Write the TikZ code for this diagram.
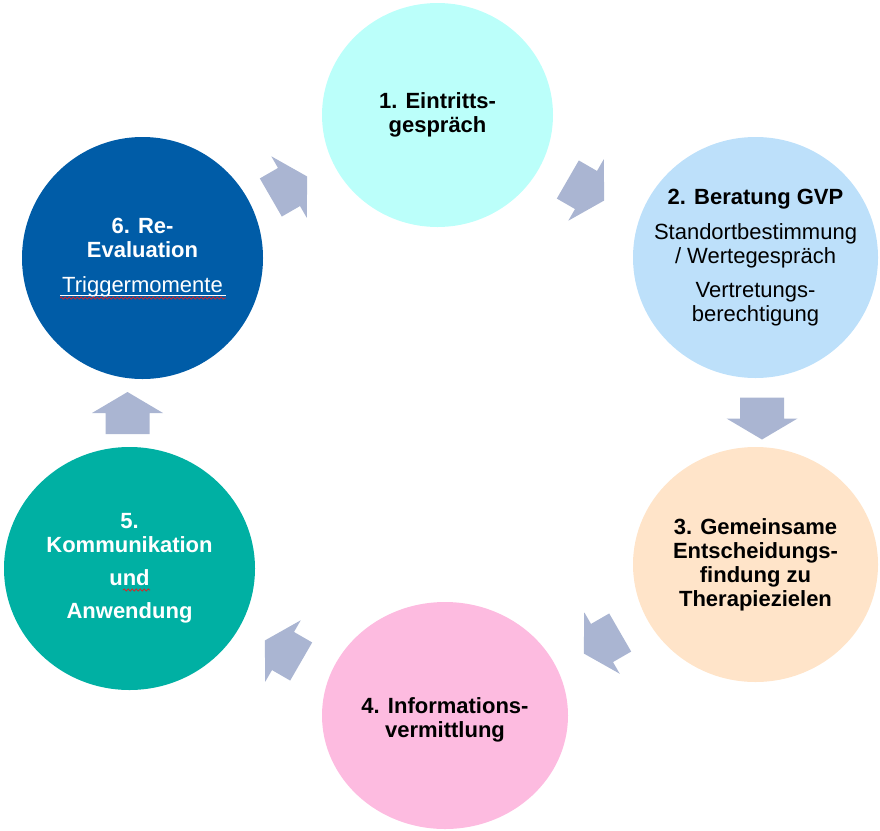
\documentclass[tikz,border=0pt]{standalone}
\usepackage{fontspec}
\setmainfont{Liberation Sans}
\usetikzlibrary{shapes.geometric,decorations.pathmorphing}

\definecolor{stepcyan}{HTML}{BBFFFA}
\definecolor{stepblue}{HTML}{BDE0FA}
\definecolor{steppeach}{HTML}{FFE4C9}
\definecolor{steppink}{HTML}{FDBBE0}
\definecolor{stepteal}{HTML}{00B0A3}
\definecolor{stepnavy}{HTML}{005CA7}
\definecolor{arrowgray}{HTML}{AAB5D2}
\definecolor{spellred}{HTML}{E02020}

\tikzset{
	phase/.style={ellipse, inner sep=0pt},
	caption/.style={align=center, inner sep=0pt, font=\fontsize{22}{24}\selectfont\bfseries},
	flowarrow/.pic={\fill[arrowgray] (-21,-22) -- (0,-22) -- (0,-35.5) -- (21,0) -- (0,35.5) -- (0,22) -- (-21,22) -- cycle;},
	spell/.style={draw=spellred, line width=0.7pt, decorate, decoration={snake, amplitude=1.1pt, segment length=4pt}}
}

\begin{document}
\begin{tikzpicture}[x=1pt, y=-1pt]
	\useasboundingbox (0,0) rectangle (880,830);
	\node[phase, fill=stepcyan, minimum width=231, minimum height=224, name=s1] at (437.5, 115) {};
	\node[phase, fill=stepblue, minimum width=245, minimum height=241, name=s2] at (755.5, 257.5) {};
	\node[phase, fill=steppeach, minimum width=245, minimum height=235, name=s3] at (755.5, 564.5) {};
	\node[phase, fill=steppink, minimum width=246, minimum height=227, name=s4] at (445, 715.5) {};
	\node[phase, fill=stepteal, minimum width=251, minimum height=243, name=s5] at (129.5, 568.5) {};
	\node[phase, fill=stepnavy, minimum width=241, minimum height=242, name=s6] at (142.5, 258) {};
	\node[caption, name=t1] at (s1) {1. Eintritts-\\gespräch};
	\node[caption, name=t2] at (s2) {2. Beratung GVP\\[11pt]\mdseries Standortbestimmung\\\mdseries / Wertegespräch\\[10pt]\mdseries Vertretungs-\\\mdseries berechtigung};
	\node[caption, name=t3] at (s3) {3. Gemeinsame\\Entscheidungs-\\findung zu\\Therapiezielen};
	\node[caption, yshift=-4pt, name=t4] at (s4) {4. Informations-\\vermittlung};
	\node[caption, text=white, name=t5] at (s5) {5.\\Kommunikation\\[9pt]und\\[9pt]Anwendung};
	\node[caption, text=white, name=t6] at (s6) {6. Re-\\Evaluation\\[11pt]\mdseries Triggermomente};
	\draw[white, line width=0.8pt] (60, 295) -- (226, 295);
	\draw[spell] (60, 298) -- (226, 298);
	\draw[spell] (123, 590) -- (150, 590);
	\pic[rotate=30] at (289, 187) {flowarrow};
	\pic[rotate=-30] at (586, 190) {flowarrow};
	\pic[rotate=-90] at (762, 418.5) {flowarrow};
	\pic[rotate=-150] at (602, 643) {flowarrow};
	\pic[rotate=150] at (283, 651) {flowarrow};
	\pic[rotate=90] at (127.5, 413) {flowarrow};
\end{tikzpicture}
\end{document}
